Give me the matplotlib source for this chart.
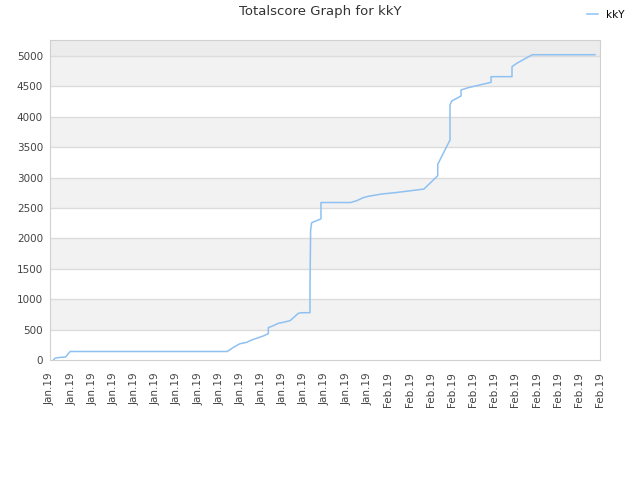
import matplotlib
matplotlib.use("Agg")
import matplotlib.pyplot as plt

# score history, x in tick units (0 = first date label)
x_vals = [0.16, 0.24, 0.39, 0.74, 0.95, 8.38, 8.65, 8.98, 9.30, 9.53, 9.77, 10.08,
          10.32, 10.32, 10.56, 10.79, 11.03, 11.35, 11.74, 11.90, 12.29, 12.29,
          12.32, 12.37, 12.76, 12.81, 12.81, 14.21, 14.50, 14.81, 15.05, 15.68,
          16.31, 16.94, 17.68, 18.33, 18.33, 18.59, 18.91, 18.91, 18.99, 19.43,
          19.43, 19.77, 20.85, 20.85, 21.84, 21.84, 22.06, 22.80, 25.76]
scores = [0, 30, 40, 50, 140, 140, 203, 268, 290, 329, 357, 395,
          433, 532, 565, 603, 620, 647, 768, 778, 778, 1179,
          2138, 2258, 2314, 2325, 2590, 2590, 2620, 2670, 2692, 2730,
          2752, 2779, 2812, 3032, 3218, 3399, 3618, 4194, 4260, 4342,
          4441, 4479, 4567, 4660, 4660, 4824, 4879, 5021, 5021]
tick_labels = ["Jan.19"] * 16 + ["Feb.19"] * 11
y_ticks = list(range(0, 5001, 500))

fig = plt.figure(figsize=(6.4, 4.8), dpi=100)
ax = fig.add_axes([50/640, 1-360/480, 550/640, 320/480])
ax.set_xlim(0, 26)
ax.set_ylim(0, 5263)

# alternating bands
for i, lo in enumerate(y_ticks):
    if i % 2 == 1:
        ax.axhspan(lo, lo + 500, color="#f2f2f2", lw=0, zorder=0)
ax.axhspan(5000, 5263, color="#ececec", lw=0, zorder=0)
for y in y_ticks[1:]:
    ax.axhline(y, color="#dcdcdc", lw=1, zorder=1)

ax.plot(x_vals, scores, color="#8ec1f2", lw=1.1, label="kkY", zorder=3)

ax.set_xticks(range(len(tick_labels)))
ax.set_xticklabels(tick_labels, rotation=90, fontsize=7.5, color="#444444")
ax.set_yticks(y_ticks)
ax.set_yticklabels([str(v) for v in y_ticks], fontsize=7.5, color="#444444")
ax.tick_params(length=0)
ax.tick_params(axis="x", pad=9)
ax.tick_params(axis="y", pad=5)
for s in ax.spines.values():
    s.set_color("#d0d0d0")

fig.text(0.5, 1-12/480, "Totalscore Graph for kkY", ha="center", va="center",
         fontsize=9.5, color="#333333")
ax.legend(loc="center", bbox_to_anchor=(606/640, 1-15/480),
          bbox_transform=fig.transFigure, frameon=False, fontsize=7.5,
          handlelength=1.0, handletextpad=0.8)

fig.savefig("out.png", dpi=100)
